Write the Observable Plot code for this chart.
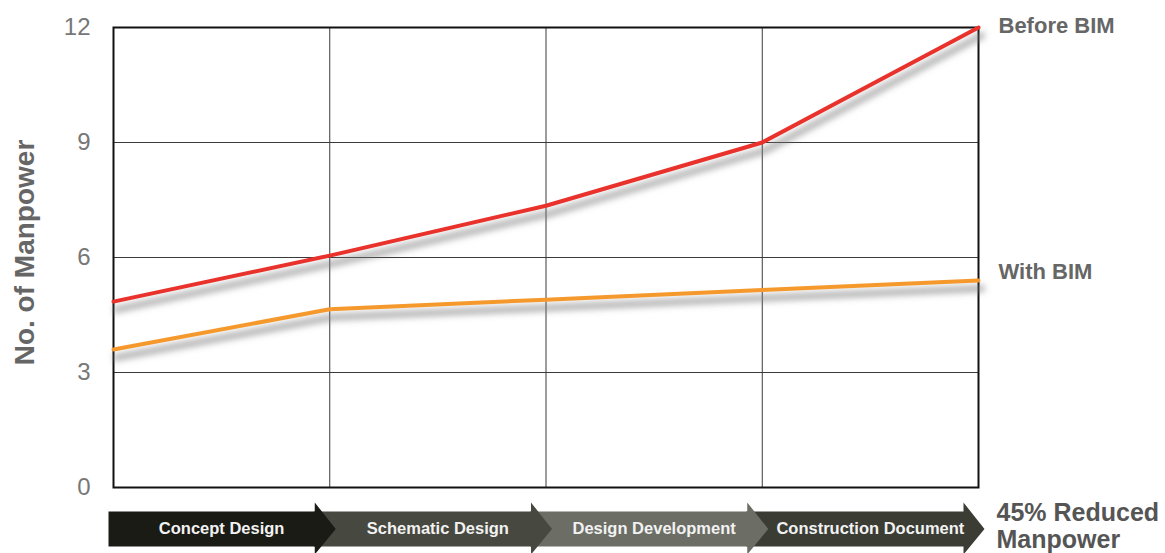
<!DOCTYPE html>
<html><head><meta charset="utf-8">
<script src="https://cdn.jsdelivr.net/npm/d3@7"></script>
<script src="https://cdn.jsdelivr.net/npm/@observablehq/plot@0.6"></script>
<style>
body{margin:0;background:#fff;}
#chart svg{font-family:"Liberation Sans",Arial,Helvetica,sans-serif;background:#fff;}
</style>
</head><body><div id="chart"></div>
<script>
const stages = ["Concept Design", "Schematic Design", "Design Development", "Construction Document"];
const milestones = [0, 1, 2, 3, 4];
const beforeBIM = [4.85, 6.05, 7.35, 9.0, 12.0];
const withBIM = [3.6, 4.65, 4.9, 5.15, 5.4];
const yTicks = [0, 3, 6, 9, 12];
const seriesNames = ["Before BIM", "With BIM"];
const seriesColors = ["#e8322b", "#f5992d"];
const stageColors = ["#1b1b16", "#47483f", "#6c6d65", "#3b3c34"];
const yLabel = "No. of Manpower";
const note = "45% Reduced\nManpower";

const W = 1165, H = 553;
const mL = 113, mR = 187, mT = 27, mB = 66;
const pxX = (W - mL - mR) / (milestones.length - 1);   // px per x unit
const pxY = (H - mT - mB) / 12;                        // px per y unit
const ux = p => p / pxX, uy = p => -p / pxY;            // pixel offset -> data units

const series = [beforeBIM, withBIM];

// arrow bar geometry (below the frame)
const bodyTop = uy(24), bodyBot = uy(59), headTop = uy(15), headBot = uy(67), mid = uy(41.5);
const arrowShapes = stages.map((st, i) => {
  const x0 = i === 0 ? i - ux(5) : i - ux(16);
  const hb = i + 1 - ux(15), tip = i + 1 + ux(6);
  return {stage: st, i, pts: [
    [x0, bodyTop], [hb, bodyTop], [hb, headTop], [tip, mid],
    [hb, headBot], [hb, bodyBot], [x0, bodyBot], [x0, bodyTop]
  ].map(([x, y]) => ({x, y}))};
});

const marks = [
  Plot.gridY([3, 6, 9], {stroke: "#3a3a3a", strokeOpacity: 1, strokeWidth: 1}),
  Plot.gridX([1, 2, 3], {stroke: "#3a3a3a", strokeOpacity: 1, strokeWidth: 1}),
  Plot.frame({stroke: "#111", strokeWidth: 2}),
  Plot.axisY(yTicks, {tickSize: 0, tickPadding: 23, fontSize: 24, color: "#777", label: null}),
  Plot.text([yLabel], {frameAnchor: "left", textAnchor: "middle", rotate: -90, dx: -88, dy: -5, fontSize: 28, fontWeight: "bold", fill: "#666"}),
  // shadows
  ...series.map((vals, s) => Plot.line(vals.map((v, i) => ({x: milestones[i], y: v})), {
    x: "x", y: "y", stroke: "#777", strokeWidth: 7, strokeOpacity: 0.55, dx: 3, dy: 8, ariaDescription: "shadow"
  })),
  ...series.map((vals, s) => Plot.line(vals.map((v, i) => ({x: milestones[i], y: v})), {
    x: "x", y: "y", stroke: seriesColors[s], strokeWidth: 4, strokeLinejoin: "round"
  })),
  ...series.map((vals, s) => Plot.text([{x: milestones.at(-1), y: vals.at(-1), t: seriesNames[s]}], {
    x: "x", y: "y", text: "t", dx: 20, dy: s === 0 ? -1.5 : -8.5, textAnchor: "start",
    fontSize: 22, fontWeight: "bold", fill: "#666"
  })),
  // arrows (drawn last-to-first so earlier heads overlap later bodies)
  ...arrowShapes.slice().reverse().map(a => Plot.line(a.pts, {
    x: "x", y: "y", fill: stageColors[a.i], stroke: "none", curve: "linear"
  })),
  Plot.text(stages, {x: (d, i) => i + 0.5, y: () => mid, text: d => d, fill: "#f2f2f2", fontWeight: "bold", fontSize: 16.5}),
  Plot.text([note], {x: () => milestones.at(-1), y: () => mid, dx: 18, dy: -3, textAnchor: "start", lineAnchor: "middle",
    lineHeight: 1.08, fontSize: 25, fontWeight: "bold", fill: "#555"})
];

const chart = Plot.plot({
  width: W, height: H,
  marginLeft: mL, marginRight: mR, marginTop: mT, marginBottom: mB,
  x: {domain: [milestones[0], milestones.at(-1)], axis: null},
  y: {domain: [0, 12], axis: null},
  style: {background: "#fff", overflow: "visible"},
  marks
});

// blur filter for line shadows
const ns = "http://www.w3.org/2000/svg";
const defs = document.createElementNS(ns, "defs");
defs.innerHTML = '<filter id="blurShadow" x="-10%" y="-50%" width="120%" height="200%"><feGaussianBlur stdDeviation="3"/></filter>';
chart.insertBefore(defs, chart.firstChild);
chart.querySelectorAll('[aria-description="shadow"]').forEach(g => g.setAttribute("filter", "url(#blurShadow)"));

document.getElementById("chart").appendChild(chart);
</script>
</body></html>
